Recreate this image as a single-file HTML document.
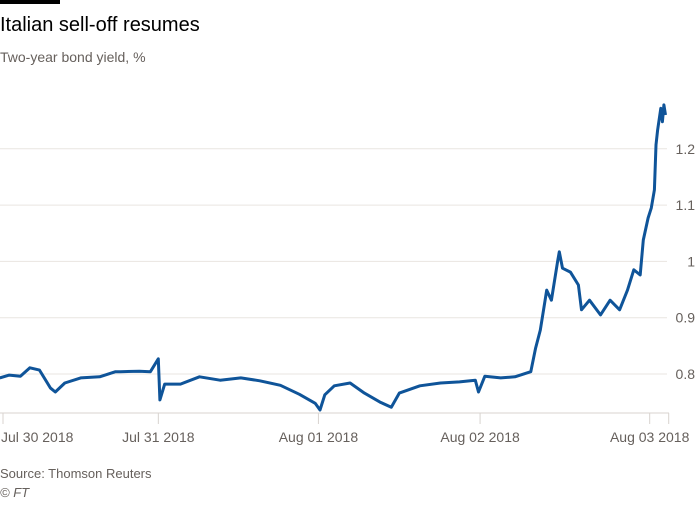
<!DOCTYPE html>
<html><head><meta charset="utf-8"><style>
body{margin:0;background:#fff;width:700px;height:500px;overflow:hidden;font-family:"Liberation Sans",sans-serif;}
</style></head><body>
<svg width="700" height="500" xmlns="http://www.w3.org/2000/svg">
<rect x="0" y="0" width="60" height="4" fill="#000"/>
<text x="0" y="31" font-size="20" fill="#000">Italian sell-off resumes</text>
<text x="0" y="62" font-size="14" fill="#66605c">Two-year bond yield, %</text>
<g id="grid"></g>
<g id="xaxis"></g>
<path id="line" fill="none" stroke="#0f5499" stroke-width="3" stroke-linejoin="round"/>
<text x="0" y="478" font-size="13" fill="#66605c">Source: Thomson Reuters</text>
<text x="0" y="497" font-size="13" font-style="italic" fill="#66605c">© FT</text>
</svg>
<script>
const times=[-0.02,0.04,0.11,0.17,0.23,0.30,0.33,0.39,0.49,0.61,0.71,0.74,0.86,0.93,0.98,0.99,1.02,1.12,1.24,1.37,1.50,1.62,1.75,1.87,1.97,2.00,2.03,2.09,2.19,2.28,2.38,2.45,2.50,2.63,2.76,2.88,2.98,3.00,3.04,3.14,3.23,3.33,3.36,3.39,3.42,3.43,3.46,3.50,3.51,3.53,3.58,3.63,3.65,3.70,3.77,3.83,3.89,3.94,3.98,4.02,4.04,4.07,4.09,4.11,4.12,4.13,4.15,4.16,4.17,4.18];
const values=[0.793,0.798,0.796,0.811,0.807,0.775,0.768,0.784,0.793,0.795,0.804,0.804,0.805,0.804,0.827,0.754,0.782,0.782,0.795,0.789,0.793,0.788,0.780,0.764,0.748,0.736,0.763,0.779,0.784,0.766,0.750,0.741,0.766,0.779,0.784,0.786,0.789,0.768,0.796,0.793,0.795,0.804,0.846,0.878,0.931,0.949,0.931,1.002,1.017,0.988,0.981,0.958,0.914,0.931,0.905,0.931,0.914,0.949,0.985,0.976,1.038,1.077,1.095,1.127,1.207,1.233,1.272,1.248,1.278,1.260];
const yTicks=[0.8,0.9,1,1.1,1.2];
const yTickLabels=["0.8","0.9","1","1.1","1.2"];
const xTicks=[0,0.98,1.99,3.01,4.08,4.20];
const xTickLabels=["Jul 30 2018","Jul 31 2018","Aug 01 2018","Aug 02 2018","Aug 03 2018",""];
const NS="http://www.w3.org/2000/svg";
const xs=t=>3+t*158.5, ys=v=>374-(v-0.8)*563;
const grid=document.getElementById('grid');
yTicks.forEach((v,i)=>{
 const l=document.createElementNS(NS,'line');
 
 
 l.setAttribute('x1',0);l.setAttribute('x2',667);l.setAttribute('y1',ys(v));l.setAttribute('y2',ys(v));
 l.setAttribute('stroke','#e9e5e1');grid.appendChild(l);
 const t=document.createElementNS(NS,'text');
 
 
 t.setAttribute('x',695);t.setAttribute('y',ys(v)+5);t.setAttribute('text-anchor','end');
 t.setAttribute('font-size','14');t.setAttribute('fill','#66605c');t.textContent=yTickLabels[i];grid.appendChild(t);
});
const xa=document.getElementById('xaxis');
const al=document.createElementNS(NS,'line');


al.setAttribute('x1',0);al.setAttribute('x2',669);al.setAttribute('y1',413);al.setAttribute('y2',413);al.setAttribute('stroke','#d8d3cf');xa.appendChild(al);
xTicks.forEach((d,i)=>{
 const l=document.createElementNS(NS,'line');
 
 
 l.setAttribute('x1',xs(d));l.setAttribute('x2',xs(d));l.setAttribute('y1',413);l.setAttribute('y2',424);l.setAttribute('stroke','#d8d3cf');xa.appendChild(l);
 if(xTickLabels[i]){
 const t=document.createElementNS(NS,'text');
 
 
 let x=xs(d),anchor='middle';
 if(i===0){x=1;anchor='start';}
 t.setAttribute('x',x);t.setAttribute('y',442);t.setAttribute('text-anchor',anchor);
 t.setAttribute('font-size','14');t.setAttribute('fill','#66605c');t.textContent=xTickLabels[i];xa.appendChild(t);}
});
document.getElementById('line').setAttribute('d',times.map((t,i)=>(i?'L':'M')+xs(t).toFixed(1)+','+ys(values[i]).toFixed(1)).join(''));
</script>
</body></html>
